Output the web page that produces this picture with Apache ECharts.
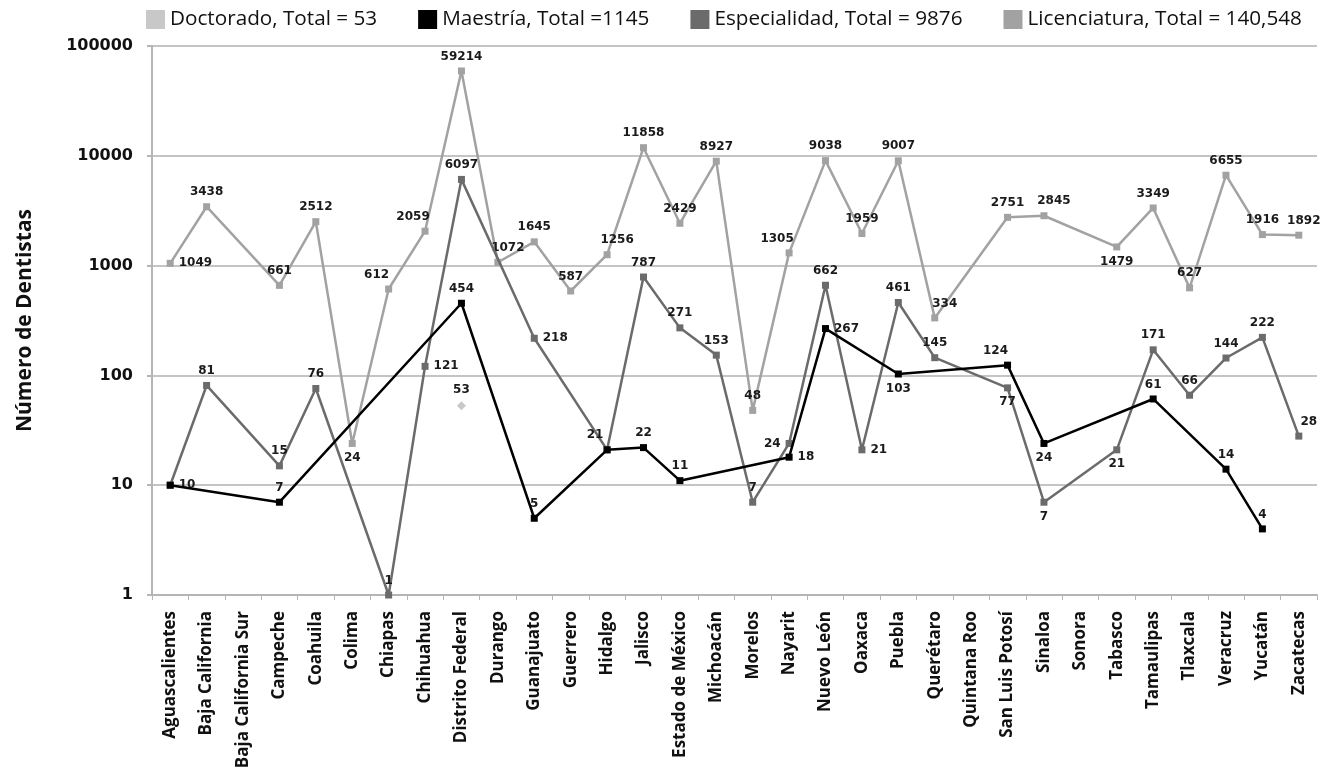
<!DOCTYPE html>
<html><head><meta charset="utf-8">
<script src="https://cdn.jsdelivr.net/npm/echarts@6/dist/echarts.min.js"></script>
<style>html,body{margin:0;padding:0;background:#fff}#c{width:1324px;height:773px}</style>
</head><body><div id="c"></div>
<script>
const categories = ['Aguascalientes','Baja California','Baja California Sur','Campeche','Coahuila','Colima','Chiapas','Chihuahua','Distrito Federal','Durango','Guanajuato','Guerrero','Hidalgo','Jalisco','Estado de México','Michoacán','Morelos','Nayarit','Nuevo León','Oaxaca','Puebla','Querétaro','Quintana Roo','San Luis Potosí','Sinaloa','Sonora','Tabasco','Tamaulipas','Tlaxcala','Veracruz','Yucatán','Zacatecas'];
const doctorado = [null,null,null,null,null,null,null,null,53,null,null,null,null,null,null,null,null,null,null,null,null,null,null,null,null,null,null,null,null,null,null,null];
const maestria = [10,null,null,7,null,null,null,null,454,null,5,null,21,22,11,null,null,18,267,null,103,null,null,124,24,null,null,61,null,14,4,null];
const especialidad = [10,81,null,15,76,null,1,121,6097,null,218,null,21,787,271,153,7,24,662,21,461,145,null,77,7,null,21,171,66,144,222,28];
const licenciatura = [1049,3438,null,661,2512,24,612,2059,59214,1072,1645,587,1256,11858,2429,8927,48,1305,9038,1959,9007,334,null,2751,2845,null,1479,3349,627,6655,1916,1892];
const seriesNames = ['Doctorado, Total = 53','Maestría, Total =1145','Especialidad, Total = 9876','Licenciatura, Total = 140,548'];
const yTicks = [1,10,100,1000,10000,100000];

// label placement codes (layout only)
const licPos = ['r','t','-','t','t','b','tl','tl','t','tr','t','t','tr','t','t','t','t','tl','t','t','t','tr','-','t','tr','-','b','t','t','t','t','tr5'];
const espPos = ['r','t','-','t','t','-','t','r','t','-','r','-','tl','t','t','t','t','l','t','r','t','t','-','b','b','-','b','t','t','t','t','tr'];
const maePos = ['-','-','-','t','-','-','-','-','t','-','t','-','-','t','t','-','-','r','r','-','b','-','-','tl','b','-','-','t','-','t','t','-'];
const docPos = ['-','-','-','-','-','-','-','-','t','-','-','-','-','-','-','-','-','-','-','-','-','-','-','-','-','-','-','-','-','-','-','-'];

const posMap = {
  t:{position:'top'}, b:{position:'bottom'}, r:{position:'right'}, l:{position:'left'},
  tl:{position:'top',offset:[-12,0]}, tr:{position:'top',offset:[10,0]}, tr5:{position:'top',offset:[5,0]},
  bl:{position:'bottom',offset:[-14,0]}
};
function build(vals,pos){
  return vals.map((v,i)=>{
    if(v==null) return null;
    const p = pos[i];
    if(p==='-') return {value:v,label:{show:false}};
    return {value:v,label:Object.assign({show:true},posMap[p])};
  });
}
const labelStyle = {fontFamily:'DejaVu Sans',fontWeight:'bold',fontSize:12,color:'#1a1a1a'};
function mk(name,vals,pos,color,symbol,size,z){
  return {name,type:'line',data:build(vals,pos),connectNulls:true,symbol,symbolSize:size,
    lineStyle:{color,width:2.5},itemStyle:{color},label:labelStyle,z,animation:false};
}
const chart = echarts.init(document.getElementById('c'),null,{renderer:'canvas'});
chart.setOption({
  animation:false,
  legend:{top:4,left:141,itemWidth:19,itemHeight:19,itemGap:41,icon:'rect',
    textStyle:{fontFamily:'Open Sans',fontSize:20.7,color:'#111'},
    data:seriesNames.map(n=>({name:n,itemStyle:{opacity:1}}))},
  grid:{left:152,right:7,top:46,bottom:178},
  xAxis:{type:'category',data:categories,boundaryGap:true,
    axisLine:{lineStyle:{color:'#b5b5b5',width:2}},
    axisTick:{show:true,length:5,lineStyle:{color:'#b5b5b5'}},
    axisLabel:{rotate:90,interval:0,fontFamily:'Open Sans',fontWeight:'bold',fontSize:17,color:'#111',margin:16}},
  yAxis:{type:'log',logBase:10,min:1,max:100000,
    name:'Número de Dentistas',nameLocation:'middle',nameRotate:90,nameGap:116,
    nameTextStyle:{fontFamily:'Open Sans',fontWeight:'bold',fontSize:21,color:'#111'},
    axisLine:{show:true,lineStyle:{color:'#b5b5b5',width:2}},
    axisTick:{show:true,length:5,lineStyle:{color:'#b5b5b5',width:2}},
    splitLine:{lineStyle:{color:'#c4c4c4',width:2}},
    axisLabel:{fontFamily:'DejaVu Sans',fontWeight:'bold',fontSize:16,color:'#111',margin:19,
      formatter:v=>yTicks.includes(Math.round(v))?String(Math.round(v)):''}},
  series:[
    mk(seriesNames[0],doctorado,docPos,'#c8c8c8','diamond',9,5),
    mk(seriesNames[1],maestria,maePos,'#000000','rect',7,4),
    mk(seriesNames[2],especialidad,espPos,'#6b6b6b','rect',7,3),
    mk(seriesNames[3],licenciatura,licPos,'#a2a2a2','rect',7,2)
  ]
});
</script></body></html>
